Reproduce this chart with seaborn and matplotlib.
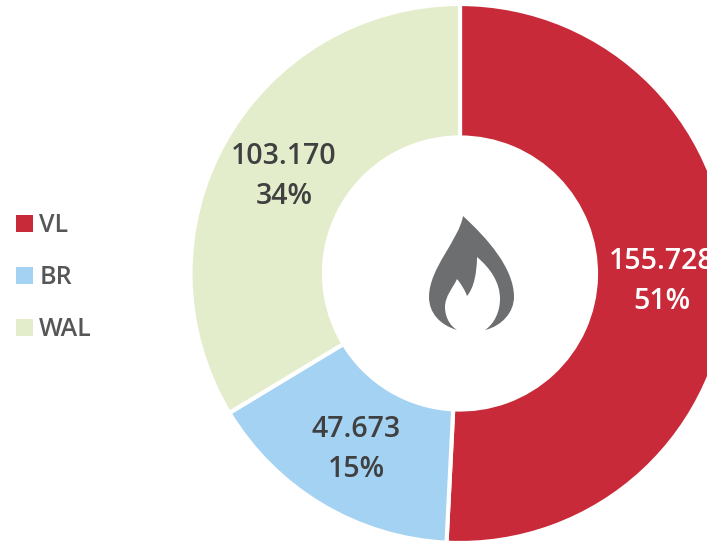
import matplotlib
matplotlib.use("Agg")
import matplotlib.pyplot as plt
from matplotlib.patches import PathPatch, Patch
from matplotlib.path import Path
import seaborn as sns

regions = ["VL", "BR", "WAL"]
values = [155728, 47673, 103170]
value_labels = ["155.728", "47.673", "103.170"]
percent_labels = ["51%", "15%", "34%"]
colors = ["#C82A39", "#A4D2F3", "#E3EDCB"]
label_colors = ["white", "#404040", "#404040"]

sns.set_theme(style="white")
plt.rcParams["font.family"] = ["Open Sans", "DejaVu Sans"]
palette = sns.color_palette(colors)

W, H = 707, 541
fig = plt.figure(figsize=(W / 100, H / 100), dpi=100, facecolor="white")
ax = fig.add_axes([0, 0, 1, 1])

counter = iter(range(len(values)))
def fmt(_):
    i = next(counter)
    return f"{value_labels[i]}\n{percent_labels[i]}"

wedges, _, autotexts = ax.pie(
    values, colors=palette, startangle=90, counterclock=False,
    center=(460, H - 273.5), radius=269.5, autopct=fmt, pctdistance=0.75,
    wedgeprops=dict(width=133.5, edgecolor="white", linewidth=3),
    frame=False,
)
for t, c in zip(autotexts, label_colors):
    t.set_color(c)
    t.set_fontsize(20.5)
    t.set_fontweight("semibold")
    t.set_linespacing(1.5)
    t.set_y(t.get_position()[1] - 2.5)
ax.set_xlim(0, W)
ax.set_ylim(0, H)
ax.set_aspect("equal")
ax.axis("off")

def p(x, y):
    return (x, H - y)

M, C, Z = Path.MOVETO, Path.CURVE4, Path.CLOSEPOLY
flame = [
    (M, 463, 216),
    (C, 459, 240), (C, 429, 268), (C, 429, 297),
    (C, 429, 313), (C, 440, 325), (C, 457, 330),
    (C, 449, 325), (C, 445, 316), (C, 445, 307),
    (C, 445, 296), (C, 453, 288), (C, 457, 279),
    (C, 461, 284), (C, 465, 290), (C, 467, 296),
    (C, 474, 288), (C, 477, 272), (C, 477, 257),
    (C, 490, 268), (C, 500, 282), (C, 500, 299),
    (C, 500, 312), (C, 494, 324), (C, 485, 330),
    (C, 502, 326), (C, 514, 312), (C, 514, 297),
    (C, 514, 268), (C, 487, 238), (C, 463, 216),
]
verts = [p(s[1], s[2]) for s in flame] + [p(463, 216)]
codes = [s[0] for s in flame] + [Z]
ax.add_patch(PathPatch(Path(verts, codes), facecolor="#6D6E70", edgecolor="none", zorder=5))

handles = [Patch(facecolor=c, edgecolor="none") for c in palette]
leg = ax.legend(
    handles, regions, loc="center left", bbox_to_anchor=(16 / W, 1 - 278 / H),
    frameon=False, labelcolor="#565656",
    prop=dict(size=18, weight="semibold"),
    handlelength=0.68, handleheight=0.68, handletextpad=0.25,
    labelspacing=1.08, borderpad=0, borderaxespad=0,
)

fig.savefig("out.png", dpi=100, facecolor="white")
